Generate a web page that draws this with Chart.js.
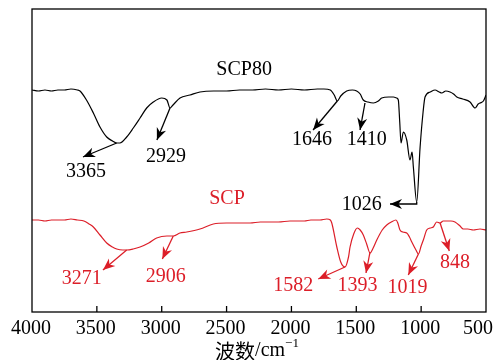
<!DOCTYPE html>
<html>
<head>
<meta charset="utf-8">
<script src="https://cdn.jsdelivr.net/npm/chart.js@4"></script>
<style>
  body { margin: 0; background: #fff; }
</style>
</head>
<body>
<canvas id="irChart" width="499" height="360"></canvas>
<script>
// x axis ticks (wavenumber, cm-1)
const xTicks = [4000, 3500, 3000, 2500, 2000, 1500, 1000, 500];

// SCP80 spectrum (black), arbitrary transmittance units
const scp80Wn = [4000, 3950, 3900, 3850, 3800, 3750, 3700, 3650, 3630, 3580,
  3527, 3476, 3424, 3380, 3347, 3322, 3270, 3219, 3167, 3116,
  3065, 3000, 2960, 2936, 2913, 2859, 2782, 2705, 2600, 2500,
  2400, 2300, 2200, 2100, 2000, 1900, 1800, 1750, 1700, 1670,
  1646, 1620, 1574, 1530, 1497, 1470, 1446, 1410, 1368, 1330,
  1304, 1250, 1214, 1188, 1176, 1165, 1155, 1137, 1111, 1086,
  1070, 1060, 1034, 1008, 985, 970, 930, 893, 860, 841,
  810, 777, 750, 725, 680, 623, 584, 560, 546, 520, 500];
const scp80T = [222, 221, 222, 221, 222, 222, 223, 222, 221, 212,
  199, 185, 175, 171, 169, 169, 175, 184, 194, 204,
  210, 214, 212, 204, 207, 214, 217, 220, 221, 221,
  222, 222, 223, 222, 223, 222, 223, 223, 222, 217,
  211, 216, 221, 222, 221, 218, 212, 210, 209, 211,
  214, 215, 215, 214, 212, 190, 169, 180, 172, 152,
  160, 145, 110, 165, 200, 215, 220, 222, 220, 219,
  221, 220, 218, 215, 213, 210, 204, 208, 209, 211, 217];

// SCP spectrum (red)
const scpWn = [4000, 3950, 3900, 3850, 3800, 3750, 3700, 3650, 3600, 3560,
  3527, 3476, 3424, 3380, 3347, 3300, 3270, 3220, 3167, 3100,
  3039, 2960, 2911, 2860, 2807, 2705, 2602, 2500, 2400, 2319,
  2240, 2165, 2100, 2011, 1900, 1850, 1780, 1728, 1700, 1689,
  1650, 1620, 1587, 1560, 1548, 1520, 1492, 1470, 1446, 1420,
  1394, 1370, 1342, 1300, 1265, 1230, 1194, 1180, 1163, 1140,
  1111, 1090, 1072, 1040, 1021, 1000, 983, 957, 930, 906,
  880, 854, 830, 803, 770, 739, 700, 675, 640, 598, 546, 500];
const scpT = [92, 92, 91, 92, 92, 92, 93, 92, 91, 88,
  85, 77, 69, 65, 63, 62, 62, 63, 65, 69,
  74, 76, 76, 79, 80, 83, 88, 89, 89, 89,
  90, 90, 90, 91, 91, 92, 92, 93, 92, 89,
  65, 50, 45, 55, 65, 78, 84, 82, 77, 68,
  59, 64, 72, 82, 87, 90, 92, 89, 82, 80,
  79, 75, 70, 62, 58, 66, 72, 82, 84, 85,
  90, 89, 91, 91, 91, 90, 86, 83, 83, 82, 83, 82];

const seriesNames = ['SCP80', 'SCP'];
const seriesColors = ['#000000', '#dc1e28'];

// peak annotations: text, start on curve, arrow tip, label centre (data coords)
const peakNotes = [
  { s: 0, text: '3365', path: [[3347, 169], [3607, 155]], label: [3584, 140] },
  { s: 0, text: '2929', path: [[2936, 204], [3037, 172]], label: [2967, 155] },
  { s: 0, text: '1646', path: [[1646, 211], [1833, 182]], label: [1841, 172] },
  { s: 0, text: '1410', path: [[1433, 209], [1471, 182]], label: [1419, 172] },
  { s: 0, text: '1026', path: [[1034, 110], [1034, 108], [1240, 108]], label: [1458, 107] },
  { s: 1, text: '3271', path: [[3270, 62], [3453, 42]], label: [3617, 33] },
  { s: 1, text: '2906', path: [[2911, 76], [2995, 53]], label: [2968, 35] },
  { s: 1, text: '1582', path: [[1587, 45], [1793, 33]], label: [1985, 26] },
  { s: 1, text: '1393', path: [[1394, 60], [1425, 39]], label: [1490, 26] },
  { s: 1, text: '1019', path: [[1021, 58], [1099, 37]], label: [1105, 24] },
  { s: 1, text: '848', path: [[854, 89], [783, 61]], label: [739, 49] }
];
const nameLabels = [[2365, 242], [2497, 113]];

const serif = '"Liberation Serif", "Times New Roman", serif';

function drawArrow(ctx, pts, color) {
  ctx.strokeStyle = color;
  ctx.fillStyle = color;
  ctx.lineWidth = 1.3;
  ctx.beginPath();
  ctx.moveTo(pts[0][0], pts[0][1]);
  for (let i = 1; i < pts.length; i++) ctx.lineTo(pts[i][0], pts[i][1]);
  ctx.stroke();
  const [x1, y1] = pts[pts.length - 2];
  const [x2, y2] = pts[pts.length - 1];
  const ang = Math.atan2(y2 - y1, x2 - x1);
  const len = 12, half = 5;
  ctx.beginPath();
  ctx.moveTo(x2, y2);
  ctx.lineTo(x2 - len * Math.cos(ang) + half * Math.sin(ang), y2 - len * Math.sin(ang) - half * Math.cos(ang));
  ctx.lineTo(x2 - len * 0.7 * Math.cos(ang), y2 - len * 0.7 * Math.sin(ang));
  ctx.lineTo(x2 - len * Math.cos(ang) - half * Math.sin(ang), y2 - len * Math.sin(ang) + half * Math.cos(ang));
  ctx.closePath();
  ctx.fill();
}

const decorPlugin = {
  id: 'decor',
  afterDatasetsDraw(chart) {
    const { ctx, chartArea: a, scales: { x, y } } = chart;
    ctx.save();

    // frame
    ctx.strokeStyle = '#000';
    ctx.lineWidth = 1.3;
    ctx.strokeRect(a.left, a.top, a.right - a.left, a.bottom - a.top);

    // inward ticks + tick labels
    ctx.font = '20px ' + serif;
    ctx.fillStyle = '#000';
    ctx.textBaseline = 'middle';
    ctx.textAlign = 'center';
    xTicks.forEach(v => {
      const px = x.getPixelForValue(v);
      if (v !== xTicks[0] && v !== xTicks[xTicks.length - 1]) {
        ctx.beginPath();
        ctx.moveTo(px, a.bottom);
        ctx.lineTo(px, a.bottom - 6);
        ctx.stroke();
      }
      const w = ctx.measureText(String(v)).width;
      let cx = px - 1;
      cx = Math.max(cx, 10 + w / 2);
      cx = Math.min(cx, 493 - w / 2);
      ctx.fillText(String(v), cx, a.bottom + 17);
    });

    // axis title 波数/cm-1
    const ty = a.bottom + 39;
    ctx.textAlign = 'left';
    ctx.font = '20px "Noto Sans CJK SC", sans-serif';
    const t1 = '波数';
    const w1 = ctx.measureText(t1).width;
    ctx.font = '20px ' + serif;
    const t2 = '/cm';
    const w2 = ctx.measureText(t2).width;
    ctx.font = '13px ' + serif;
    const t3 = '\u22121';
    const w3 = ctx.measureText(t3).width;
    let tx = (a.left + a.right) / 2 - 2 - (w1 + w2 + w3) / 2;
    ctx.font = '20px "Noto Sans CJK SC", sans-serif';
    ctx.fillText(t1, tx, ty);
    ctx.font = '20px ' + serif;
    ctx.fillText(t2, tx + w1, ty);
    ctx.font = '13px ' + serif;
    ctx.fillText(t3, tx + w1 + w2, ty - 7);

    // series names
    ctx.textAlign = 'center';
    ctx.font = '20px ' + serif;
    nameLabels.forEach((p, i) => {
      ctx.fillStyle = seriesColors[i];
      ctx.fillText(seriesNames[i], x.getPixelForValue(p[0]), y.getPixelForValue(p[1]));
    });

    // peak arrows and labels
    peakNotes.forEach(n => {
      const color = seriesColors[n.s];
      const pts = n.path.map(p => [x.getPixelForValue(p[0]), y.getPixelForValue(p[1])]);
      drawArrow(ctx, pts, color);
      ctx.fillStyle = color;
      ctx.font = '20px ' + serif;
      ctx.fillText(n.text, x.getPixelForValue(n.label[0]), y.getPixelForValue(n.label[1]));
    });

    ctx.restore();
  }
};

const ctx = document.getElementById('irChart').getContext('2d');
new Chart(ctx, {
  type: 'line',
  data: {
    datasets: [
      {
        label: seriesNames[0],
        data: scp80Wn.map((w, i) => ({ x: w, y: scp80T[i] })),
        borderColor: seriesColors[0],
        borderWidth: 1.2,
        pointRadius: 0,
        cubicInterpolationMode: 'monotone'
      },
      {
        label: seriesNames[1],
        data: scpWn.map((w, i) => ({ x: w, y: scpT[i] })),
        borderColor: seriesColors[1],
        borderWidth: 1.2,
        pointRadius: 0,
        cubicInterpolationMode: 'monotone'
      }
    ]
  },
  options: {
    responsive: false,
    animation: false,
    layout: { padding: { left: 32, right: 13, top: 9, bottom: 48 } },
    plugins: {
      legend: { display: false },
      tooltip: { enabled: false }
    },
    scales: {
      x: {
        type: 'linear',
        reverse: true,
        min: 500,
        max: 4000,
        display: false
      },
      y: {
        min: 0,
        max: 303,
        display: false
      }
    }
  },
  plugins: [decorPlugin]
});
</script>
</body>
</html>
